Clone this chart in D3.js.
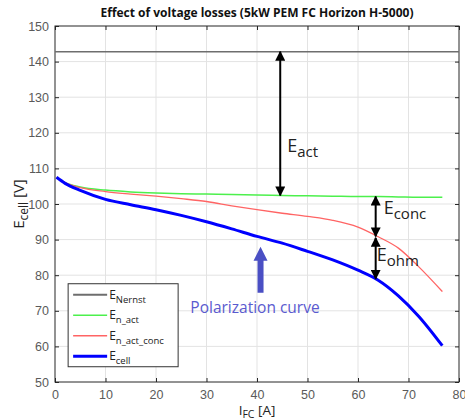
<!DOCTYPE html>
<html>
<head>
<meta charset="utf-8">
<script src="https://cdn.jsdelivr.net/npm/d3@7"></script>
<style>
  body { margin: 0; background: #fff; }
  text { font-family: "Liberation Sans", Arial, sans-serif; }
</style>
</head>
<body>
<div id="chart"></div>
<script>
// ---- data ----
const current = [0.3, 2, 5, 10, 15, 20, 25, 30, 35, 40, 45, 50, 55, 60, 64, 68, 72, 76.7];
const eNActVals = [107.5, 106.0, 104.8, 103.9, 103.4, 103.1, 102.9, 102.8, 102.7, 102.5, 102.4, 102.3, 102.2, 102.1, 102.1, 102.0, 101.9, 101.9];
const eNActConcVals = [107.5, 106.0, 104.6, 103.5, 102.8, 102.2, 101.5, 100.7, 99.5, 98.4, 97.4, 96.5, 95.4, 93.5, 90.8, 87.6, 82.4, 75.4];
const eCellVals = [107.5, 105.8, 103.8, 101.3, 99.8, 98.4, 96.8, 95.0, 93.0, 90.9, 89.0, 86.7, 84.3, 81.4, 78.6, 74.2, 68.5, 60.2];
const nernstCurrent = [0, 80];
const nernstVals = [142.8, 142.8];

const xTicks = [0, 10, 20, 30, 40, 50, 60, 70, 80];
const yTicks = [50, 60, 70, 80, 90, 100, 110, 120, 130, 140, 150];

// annotation arrows: [current, from, to]
const lossArrows = [
  {name: "act", i: 44.6, from: 142.8, to: 102.4},
  {name: "conc", i: 63.5, from: 102.1, to: 90.9},
  {name: "ohm", i: 63.5, from: 90.5, to: 79.0}
];
const polarArrow = {i: 40.7, from: 75.1, to: 88.0};

const legendItems = [
  {main: "E", sub: "Nernst", color: "#6e6e6e", w: 2},
  {main: "E", sub: "n_act", color: "#4cf04c", w: 1.5},
  {main: "E", sub: "n_act_conc", color: "#ff6464", w: 1.5},
  {main: "E", sub: "cell", color: "#0000ff", w: 3}
];

// ---- layout ----
const W = 465, H = 419;
const margin = {top: 26, right: 6, bottom: 37, left: 55};
const width = W - margin.left - margin.right;
const height = H - margin.top - margin.bottom;

const svg = d3.select("#chart").append("svg")
    .attr("width", W).attr("height", H);

const x = d3.scaleLinear().domain([0, 80]).range([0, width]);
const y = d3.scaleLinear().domain([50, 150]).range([height, 0]);

const g = svg.append("g").attr("transform", `translate(${margin.left},${margin.top})`);

// grid
g.append("g").selectAll("line.vg").data(xTicks.slice(1, -1)).enter().append("line")
    .attr("x1", d => x(d)).attr("x2", d => x(d)).attr("y1", 0).attr("y2", height)
    .attr("stroke", "#e3e3e3").attr("stroke-width", 1);
g.append("g").selectAll("line.hg").data(yTicks.slice(1, -1)).enter().append("line")
    .attr("y1", d => y(d)).attr("y2", d => y(d)).attr("x1", 0).attr("x2", width)
    .attr("stroke", "#e3e3e3").attr("stroke-width", 1);

// axes (ticks inside)
function styleAxis(sel) {
  sel.select(".domain").remove();
  sel.selectAll(".tick line").attr("stroke", "#262626");
  sel.selectAll(".tick text").attr("fill", "#5a5a5a").style("font-size", "12.5px");
}
g.append("g").attr("transform", `translate(0,${height})`)
  .call(d3.axisBottom(x).tickValues(xTicks).tickSizeInner(-4).tickSizeOuter(0).tickPadding(8))
  .call(styleAxis);
g.append("g")
  .call(d3.axisTop(x).tickValues(xTicks).tickSizeInner(-4).tickSizeOuter(0).tickFormat(""))
  .call(styleAxis);
g.append("g")
  .call(d3.axisLeft(y).tickValues(yTicks).tickSizeInner(-4).tickSizeOuter(0).tickPadding(6))
  .call(styleAxis);
g.append("g").attr("transform", `translate(${width},0)`)
  .call(d3.axisRight(y).tickValues(yTicks).tickSizeInner(-4).tickSizeOuter(0).tickFormat(""))
  .call(styleAxis);

g.append("rect").attr("width", width).attr("height", height)
  .attr("fill", "none").attr("stroke", "#262626").attr("stroke-width", 1);

// curves
const line = d3.line().x(d => x(d[0])).y(d => y(d[1])).curve(d3.curveMonotoneX);
function drawSeries(xs, ys, color, w) {
  g.append("path").datum(d3.zip(xs, ys))
    .attr("d", line).attr("fill", "none")
    .attr("stroke", color).attr("stroke-width", w);
}
drawSeries(nernstCurrent, nernstVals, "#6e6e6e", 1.5);
drawSeries(current, eNActVals, "#4cf04c", 1.5);
drawSeries(current, eNActConcVals, "#ff6464", 1.3);
drawSeries(current, eCellVals, "#0000ff", 3);

// black double arrows
const defs = svg.append("defs");
defs.append("marker").attr("id", "ah").attr("viewBox", "0 0 10 10")
  .attr("refX", 9).attr("refY", 5).attr("markerWidth", 5).attr("markerHeight", 5)
  .attr("markerUnits", "strokeWidth").attr("orient", "auto-start-reverse")
  .append("path").attr("d", "M0,0 L10,5 L0,10 z").attr("fill", "#000");

g.selectAll("line.la").data(lossArrows).enter().append("line")
  .attr("x1", d => x(d.i)).attr("x2", d => x(d.i))
  .attr("y1", d => y(d.from)).attr("y2", d => y(d.to))
  .attr("stroke", "#000").attr("stroke-width", 2)
  .attr("marker-start", "url(#ah)").attr("marker-end", "url(#ah)");

function eLabel(px, py, sub, size) {
  const t = g.append("text").attr("x", px).attr("y", py)
    .attr("fill", "#222").style("font-family", "'Open Sans', sans-serif").style("font-size", size + "px");
  t.append("tspan").text("E");
  t.append("tspan").attr("dy", 5).style("font-size", (size - 3) + "px").text(sub);
}
eLabel(x(44.6) + 7, y(114.5), "act", 18);
eLabel(x(63.5) + 8, y(97.2), "conc", 18);
eLabel(x(63.5) + 1, y(84.0), "ohm", 18);

// polarization curve arrow
const pa = polarArrow;
const px0 = x(pa.i), pyBase = y(pa.from), pyTip = y(pa.to);
const headLen = 14, headHalf = 7, shaftHalf = 3;
g.append("path")
  .attr("d", `M${px0 - shaftHalf},${pyBase} L${px0 - shaftHalf},${pyTip + headLen} L${px0 - headHalf},${pyTip + headLen}
              L${px0},${pyTip} L${px0 + headHalf},${pyTip + headLen} L${px0 + shaftHalf},${pyTip + headLen} L${px0 + shaftHalf},${pyBase} Z`)
  .attr("fill", "#4a4fc4");
g.append("text").attr("x", x(26.8)).attr("y", y(69.3))
  .attr("fill", "#5a5acf").style("font-family", "'Open Sans', sans-serif").style("font-size", "15.5px")
  .text("Polarization curve");

// legend
const lg = g.append("g").attr("transform", `translate(${x(2.6)},${y(70.3) - 26})`);
lg.append("rect").attr("width", 110).attr("height", 83)
  .attr("fill", "#fff").attr("stroke", "#333").attr("stroke-width", 1);
legendItems.forEach((d, i) => {
  const ry = 11 + i * 20.5;
  lg.append("line").attr("x1", 5).attr("x2", 39).attr("y1", ry).attr("y2", ry)
    .attr("stroke", d.color).attr("stroke-width", d.w);
  const t = lg.append("text").attr("x", 41).attr("y", ry + 4)
    .attr("fill", "#222").style("font-family", "'Open Sans', sans-serif").style("font-size", "12px");
  t.append("tspan").text(d.main);
  t.append("tspan").attr("dy", 4).style("font-size", "9.5px").text(d.sub);
});

// title and axis labels
svg.append("text").attr("x", margin.left + width / 2).attr("y", 17)
  .attr("text-anchor", "middle").attr("fill", "#111")
  .style("font-family", "'Open Sans', sans-serif").style("font-weight", "bold").style("font-size", "12px")
  .text("Effect of voltage losses (5kW PEM FC Horizon H-5000)");

const yl = svg.append("text").attr("transform", `translate(24,${margin.top + y(100)}) rotate(-90)`)
  .attr("text-anchor", "middle").attr("fill", "#222")
  .style("font-family", "'Open Sans', sans-serif").style("font-size", "15px");
yl.append("tspan").text("E");
yl.append("tspan").attr("dy", 4).style("font-size", "12px").text("cell");
yl.append("tspan").attr("dy", -4).text(" [V]");

const xl = svg.append("text").attr("x", margin.left + x(40)).attr("y", 415)
  .attr("text-anchor", "middle").attr("fill", "#222")
  .style("font-family", "'Open Sans', sans-serif").style("font-size", "13.5px");
xl.append("tspan").text("I");
xl.append("tspan").attr("dy", 2.5).style("font-size", "10.5px").text("FC");
xl.append("tspan").attr("dy", -2.5).text(" [A]");
</script>
</body>
</html>
